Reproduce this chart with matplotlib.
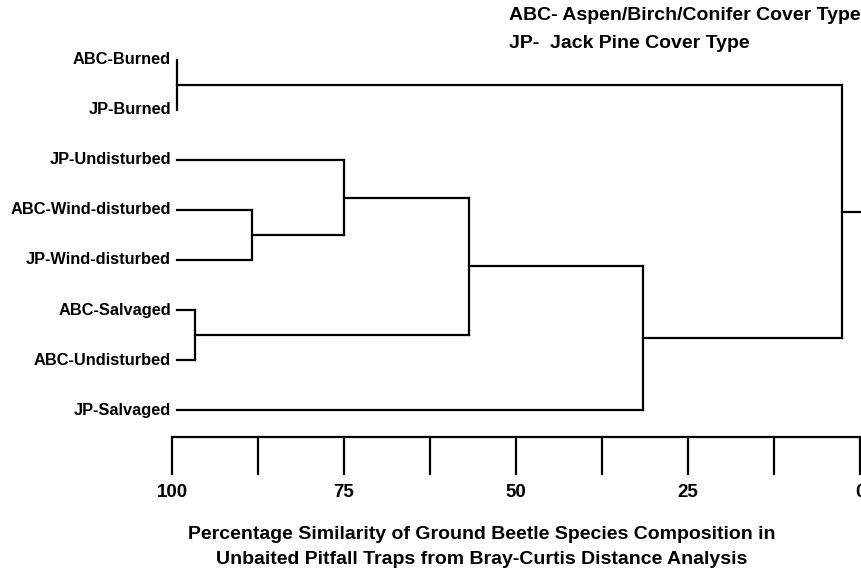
import matplotlib
matplotlib.use("Agg")
import matplotlib.pyplot as plt

plt.rcParams['font.family'] = ['Liberation Sans', 'DejaVu Sans']
plt.rcParams['font.weight'] = 'bold'

# leaves, top to bottom
leaves = ['ABC-Burned', 'JP-Burned', 'JP-Undisturbed', 'ABC-Wind-disturbed',
          'JP-Wind-disturbed', 'ABC-Salvaged', 'ABC-Undisturbed', 'JP-Salvaged']
# merges: (child a, child b, percentage similarity); new node ids start at len(leaves)
merge_a = [0, 3, 2, 5, 10, 12, 8]
merge_b = [1, 4, 9, 6, 11, 7, 13]
merge_sim = [99.3, 88.4, 75.0, 96.7, 56.8, 31.5, 2.6]
leaf_sim = 99.3  # where the leaf branches start

scale_major = [100, 75, 50, 25, 0]
scale_minor = [87.5, 62.5, 37.5, 12.5]

legend_lines = ['ABC- Aspen/Birch/Conifer Cover Type', 'JP-  Jack Pine Cover Type']
xlabel = ('Percentage Similarity of Ground Beetle Species Composition in\n'
          'Unbaited Pitfall Traps from Bray-Curtis Distance Analysis')

lw = 1.6
fig = plt.figure(figsize=(8.61, 5.70), dpi=100)
ax = fig.add_axes([0, 0, 1, 1])

# node positions: (y, similarity)
pos = {i: (float(i), leaf_sim) for i in range(len(leaves))}
for k, (a, b, s) in enumerate(zip(merge_a, merge_b, merge_sim)):
    ya, sa = pos[a]
    yb, sb = pos[b]
    ax.plot([sa, s], [ya, ya], color='black', lw=lw, solid_capstyle='projecting')
    ax.plot([sb, s], [yb, yb], color='black', lw=lw, solid_capstyle='projecting')
    ax.plot([s, s], [ya, yb], color='black', lw=lw, solid_capstyle='projecting')
    pos[len(leaves) + k] = ((ya + yb) / 2, s)

# stub from the root going off to the right
root_y, root_s = pos[len(leaves) + len(merge_sim) - 1]
ax.plot([root_s, -5], [root_y, root_y], color='black', lw=lw)

for i, name in enumerate(leaves):
    ax.text(100.15, i, name, ha='right', va='center', fontsize=11.8, fontweight='bold')

ax.set_xlim(125.0, -0.145)
ax.set_ylim(10.2, -1.2)

# the similarity scale
for side in ['left', 'right', 'top']:
    ax.spines[side].set_visible(False)
ax.spines['bottom'].set_position(('data', 7.54))
ax.spines['bottom'].set_bounds(0, 100)
ax.spines['bottom'].set_linewidth(lw)
ax.set_xticks(scale_major)
ax.set_xticklabels([str(v) for v in scale_major])
ax.set_xticks(scale_minor, minor=True)
ax.tick_params(axis='x', which='both', direction='out', length=27.5, width=lw, pad=6)
ax.tick_params(axis='x', which='major', labelsize=13.5)
ax.set_yticks([])

fig.text(509 / 861, 1 - 16 / 570, legend_lines[0], ha='left', va='center', fontsize=14, fontweight='bold')
fig.text(509 / 861, 1 - 43 / 570, legend_lines[1], ha='left', va='center', fontsize=14, fontweight='bold')
fig.text(482 / 861, 1 - 547 / 570, xlabel, ha='center', va='center', fontsize=14,
         fontweight='bold', linespacing=1.55)

fig.savefig('out.png', dpi=100)
